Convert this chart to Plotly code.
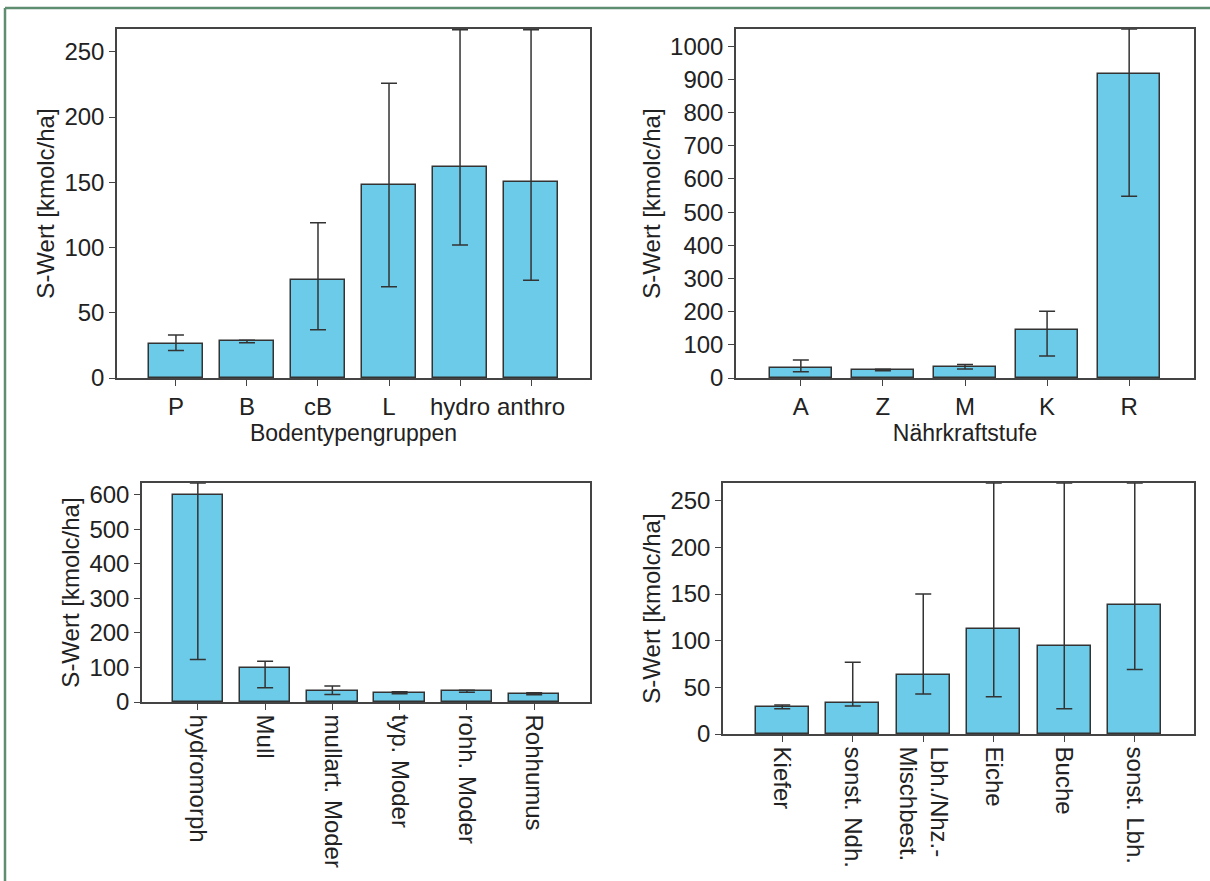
import plotly.graph_objects as go

# ---- data ----
boden_cats = ["P", "B", "cB", "L", "hydro", "anthro"]
boden_vals = [26, 28, 75, 148, 162, 150]
boden_hi = [33, 29, 119, 226, 267, 267]
boden_lo = [21, 27, 37, 70, 102, 75]

naehr_cats = ["A", "Z", "M", "K", "R"]
naehr_vals = [31, 24, 32, 146, 916]
naehr_hi = [54, 26, 41, 201, 1052]
naehr_lo = [19, 22, 27, 66, 548]

humus_cats = ["hydromorph", "Mull", "mullart. Moder", "typ. Moder", "rohh. Moder", "Rohhumus"]
humus_vals = [600, 97, 32, 27, 31, 24]
humus_hi = [634, 118, 46, 30, 34, 27]
humus_lo = [123, 41, 22, 24, 28, 21]

baum_cats = ["Kiefer", "sonst. Ndh.", "Lbh./Nhz.-<br>Mischbest.", "Eiche", "Buche", "sonst. Lbh."]
baum_vals = [29, 33, 63, 113, 94, 138]
baum_hi = [31, 77, 150, 269, 269, 269]
baum_lo = [27, 30, 43, 40, 27, 69]

y_title = "S-Wert [kmolc/ha]"
x_titles = ["Bodentypengruppen", "Nährkraftstufe", "", ""]
y_max = [267.5, 1052, 634, 269]
y_dtick = [50, 100, 100, 50]

W, H = 1210, 881
BAR = "#6ccbe9"
LINE = "#444444"
TXT = "#222222"
FONT = "Liberation Sans, Arial, sans-serif"

panels = [
    (boden_cats, boden_vals, boden_hi, boden_lo),
    (naehr_cats, naehr_vals, naehr_hi, naehr_lo),
    (humus_cats, humus_vals, humus_hi, humus_lo),
    (baum_cats, baum_vals, baum_hi, baum_lo),
]
# pixel boxes (left, right, top, bottom)
boxes = [(117, 590, 29, 378), (736, 1194, 29, 378), (142, 590, 483, 702), (723, 1194, 483, 734)]
xpad = [0.83, 0.79, 0.83, 0.84]

fig = go.Figure()
layout = {}
for i, ((cats, vals, hi, lo), (l, r, t, b)) in enumerate(zip(panels, boxes)):
    n = i + 1
    xa = "x" if n == 1 else f"x{n}"
    ya = "y" if n == 1 else f"y{n}"
    fig.add_trace(go.Bar(
        x=cats, y=vals, xaxis=xa, yaxis=ya, width=0.75,
        marker=dict(color=BAR, line=dict(color="#333333", width=1.5)),
        error_y=dict(type="data", symmetric=False,
                     array=[h - v for h, v in zip(hi, vals)],
                     arrayminus=[v - lo_ for v, lo_ in zip(vals, lo)],
                     color="#333333", thickness=1.5, width=8),
        showlegend=False, hoverinfo="skip"))
    rot = i >= 2
    layout["xaxis" if n == 1 else f"xaxis{n}"] = dict(
        domain=[l / W, r / W], anchor=ya, type="category",
        range=[-xpad[i], len(cats) - 1 + xpad[i]],
        showline=True, mirror=True, linecolor=LINE, linewidth=1.5,
        ticks="outside", ticklen=6, tickcolor=LINE, tickwidth=1.2,
        tickangle=90 if rot else 0,
        tickfont=dict(family=FONT, size=24, color=TXT),
        title=dict(text=x_titles[i], font=dict(family=FONT, size=23, color=TXT), standoff=6),
        showgrid=False, zeroline=False, automargin=False)
    layout["yaxis" if n == 1 else f"yaxis{n}"] = dict(
        domain=[1 - b / H, 1 - t / H], anchor=xa,
        range=[0, y_max[i]], dtick=y_dtick[i],
        showline=True, mirror=True, linecolor=LINE, linewidth=1.5,
        ticks="outside", ticklen=6, tickcolor=LINE, tickwidth=1.2,
        tickfont=dict(family=FONT, size=24, color=TXT),
        title=dict(text=y_title, font=dict(family=FONT, size=24, color=TXT), standoff=3),
        showgrid=False, zeroline=False, automargin=False)

fig.update_layout(
    width=W, height=H, margin=dict(l=0, r=0, t=0, b=0),
    paper_bgcolor="white", plot_bgcolor="white", bargap=0,
    **layout)

# outer green frame lines (top and left)
fig.add_shape(type="line", xref="paper", yref="paper", x0=5 / W, x1=1, y0=1 - 8 / H, y1=1 - 8 / H,
              line=dict(color="#5e8d70", width=2.5))
fig.add_shape(type="line", xref="paper", yref="paper", x0=5 / W, x1=5 / W, y0=0, y1=1 - 8 / H,
              line=dict(color="#5e8d70", width=2.5))

fig.write_html("out.html", config={"displayModeBar": False},
               post_script="document.body.style.margin='0';")
